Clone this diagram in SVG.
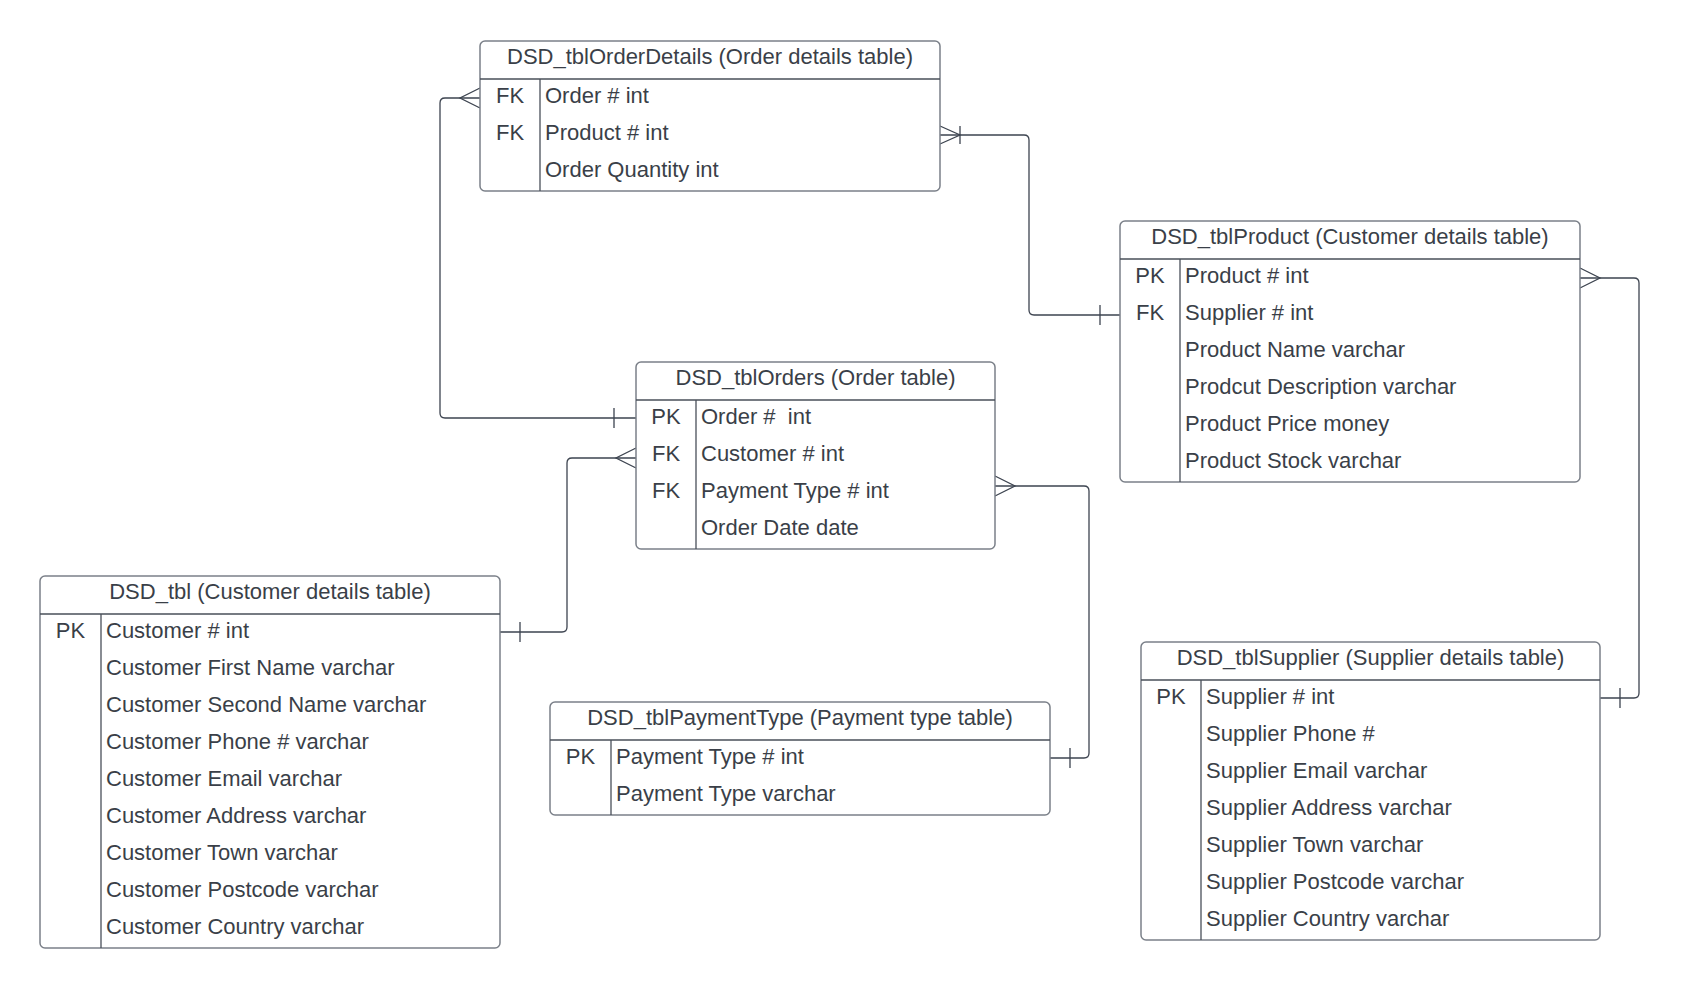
<svg xmlns="http://www.w3.org/2000/svg" width="1681" height="988" viewBox="0 0 1681 988">
<style>
.box{fill:#ffffff;stroke:#7b8089;stroke-width:1.5}
.sep{stroke:#4a505a;stroke-width:1.3;fill:none}
.t{font-family:"Liberation Sans",Arial,sans-serif;font-size:22px;fill:#3a3f48}
.c{text-anchor:middle}
.conn{fill:none;stroke:#3d4450;stroke-width:1.3}
</style>
<rect width="1681" height="988" fill="#ffffff"/>
<g id="connectors">
  <path class="conn" d="M480,98 H445 Q440,98 440,103 V413 Q440,418 445,418 H636"/>
  <path class="conn" d="M480,88 L460,98 L480,108 M614,408 V428"/>
  <path class="conn" d="M940,135 H1024 Q1029,135 1029,140 V310 Q1029,315 1034,315 H1120"/>
  <path class="conn" d="M940,126 L960,135 L940,144 M960,126 V144 M1100,305 V325"/>
  <path class="conn" d="M1580,278 H1634 Q1639,278 1639,283 V693 Q1639,698 1634,698 H1600"/>
  <path class="conn" d="M1580,268 L1600,278 L1580,288 M1620,688 V708"/>
  <path class="conn" d="M636,458 H572 Q567,458 567,463 V627 Q567,632 562,632 H500"/>
  <path class="conn" d="M636,448 L616,458 L636,468 M520,622 V642"/>
  <path class="conn" d="M995,486 H1084 Q1089,486 1089,491 V753 Q1089,758 1084,758 H1050"/>
  <path class="conn" d="M995,476 L1015,486 L995,496 M1070,748 V768"/>
</g>
<g id="orderdetails">
  <rect class="box" x="480" y="41" width="460" height="150" rx="5"/>
  <path class="sep" d="M480,79 H940 M540,79 V191"/>
  <text class="t c" x="710" y="64">DSD_tblOrderDetails (Order details table)</text>
  <text class="t c" x="510" y="102.5">FK</text>
  <text class="t c" x="510" y="139.5">FK</text>
  <text class="t" x="545" y="102.5">Order # int</text>
  <text class="t" x="545" y="139.5">Product # int</text>
  <text class="t" x="545" y="176.5">Order Quantity int</text>
</g>
<g id="product">
  <rect class="box" x="1120" y="221" width="460" height="261" rx="5"/>
  <path class="sep" d="M1120,259 H1580 M1180,259 V482"/>
  <text class="t c" x="1350" y="244">DSD_tblProduct (Customer details table)</text>
  <text class="t c" x="1150" y="282.5">PK</text>
  <text class="t c" x="1150" y="319.5">FK</text>
  <text class="t" x="1185" y="282.5">Product # int</text>
  <text class="t" x="1185" y="319.5">Supplier # int</text>
  <text class="t" x="1185" y="356.5">Product Name varchar</text>
  <text class="t" x="1185" y="393.5">Prodcut Description varchar</text>
  <text class="t" x="1185" y="430.5">Product Price money</text>
  <text class="t" x="1185" y="467.5">Product Stock varchar</text>
</g>
<g id="orders">
  <rect class="box" x="636" y="362" width="359" height="187" rx="5"/>
  <path class="sep" d="M636,400 H995 M696,400 V549"/>
  <text class="t c" x="815.5" y="385">DSD_tblOrders (Order table)</text>
  <text class="t c" x="666" y="423.5">PK</text>
  <text class="t c" x="666" y="460.5">FK</text>
  <text class="t c" x="666" y="497.5">FK</text>
  <text class="t" x="701" y="423.5" xml:space="preserve">Order #  int</text>
  <text class="t" x="701" y="460.5">Customer # int</text>
  <text class="t" x="701" y="497.5">Payment Type # int</text>
  <text class="t" x="701" y="534.5">Order Date date</text>
</g>
<g id="customer">
  <rect class="box" x="40" y="576" width="460" height="372" rx="5"/>
  <path class="sep" d="M40,614 H500 M101,614 V948"/>
  <text class="t c" x="270" y="599">DSD_tbl (Customer details table)</text>
  <text class="t c" x="70.5" y="637.5">PK</text>
  <text class="t" x="106" y="637.5">Customer # int</text>
  <text class="t" x="106" y="674.5">Customer First Name varchar</text>
  <text class="t" x="106" y="711.5">Customer Second Name varchar</text>
  <text class="t" x="106" y="748.5">Customer Phone # varchar</text>
  <text class="t" x="106" y="785.5">Customer Email varchar</text>
  <text class="t" x="106" y="822.5">Customer Address varchar</text>
  <text class="t" x="106" y="859.5">Customer Town varchar</text>
  <text class="t" x="106" y="896.5">Customer Postcode varchar</text>
  <text class="t" x="106" y="933.5">Customer Country varchar</text>
</g>
<g id="paymenttype">
  <rect class="box" x="550" y="702" width="500" height="113" rx="5"/>
  <path class="sep" d="M550,740 H1050 M611,740 V815"/>
  <text class="t c" x="800" y="725">DSD_tblPaymentType (Payment type table)</text>
  <text class="t c" x="580.5" y="763.5">PK</text>
  <text class="t" x="616" y="763.5">Payment Type # int</text>
  <text class="t" x="616" y="800.5">Payment Type varchar</text>
</g>
<g id="supplier">
  <rect class="box" x="1141" y="642" width="459" height="298" rx="5"/>
  <path class="sep" d="M1141,680 H1600 M1201,680 V940"/>
  <text class="t c" x="1370.5" y="665">DSD_tblSupplier (Supplier details table)</text>
  <text class="t c" x="1171" y="703.5">PK</text>
  <text class="t" x="1206" y="703.5">Supplier # int</text>
  <text class="t" x="1206" y="740.5">Supplier Phone #</text>
  <text class="t" x="1206" y="777.5">Supplier Email varchar</text>
  <text class="t" x="1206" y="814.5">Supplier Address varchar</text>
  <text class="t" x="1206" y="851.5">Supplier Town varchar</text>
  <text class="t" x="1206" y="888.5">Supplier Postcode varchar</text>
  <text class="t" x="1206" y="925.5">Supplier Country varchar</text>
</g>
</svg>
